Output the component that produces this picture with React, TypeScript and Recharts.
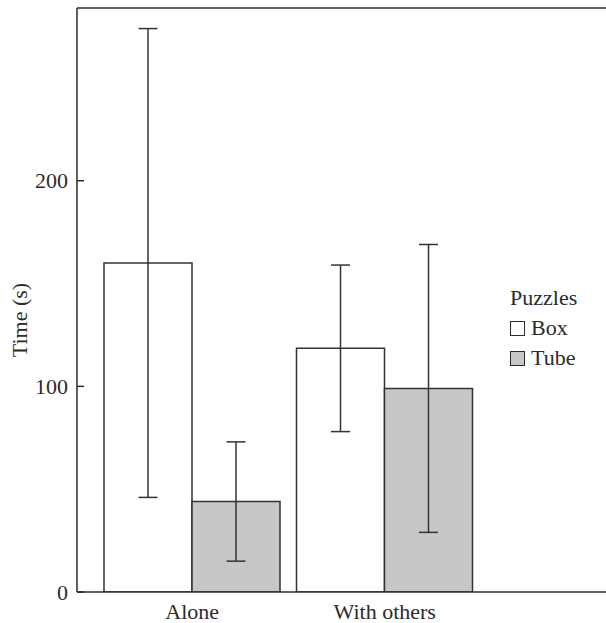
import React from 'react';
import {
  BarChart, Bar, XAxis, YAxis, ErrorBar, Legend, ReferenceLine, Label
} from 'recharts';

const conditions = ['Alone', 'With others'];
const boxTimes = [160, 118.5];
const boxErrors = [114, 40.5];
const tubeTimes = [44, 99];
const tubeErrors = [29, 70];
const yTicks = [0, 100, 200];
const yMax = 284;

const data = conditions.map((c, i) => ({
  condition: c,
  box: boxTimes[i],
  boxErr: boxErrors[i],
  tube: tubeTimes[i],
  tubeErr: tubeErrors[i],
}));

const FONT = '"Liberation Serif", "DejaVu Serif", serif';
const INK = '#2b2b2b';
const AXIS_X = 77;

const YTick = (props: any) => {
  const { y, payload } = props;
  return (
    <g>
      <line x1={AXIS_X} x2={AXIS_X + 7} y1={y} y2={y} stroke={INK} strokeWidth={1.5} />
      <text x={AXIS_X - 9} y={y} dy="0.35em" textAnchor="end" fill={INK} fontSize={22} fontFamily={FONT}>
        {payload.value}
      </text>
    </g>
  );
};

const PuzzleLegend = () => (
  <div style={{ fontFamily: FONT, fontSize: 22, color: INK, lineHeight: '30px' }}>
    <div>Puzzles</div>
    {[{ name: 'Box', fill: '#ffffff' }, { name: 'Tube', fill: '#c6c7c9' }].map((s) => (
      <div key={s.name} style={{ display: 'flex', alignItems: 'center' }}>
        <span style={{
          display: 'inline-block', width: 13, height: 13, background: s.fill,
          border: `1.5px solid ${INK}`, marginRight: 6,
        }} />
        {s.name}
      </div>
    ))}
  </div>
);

export default function App() {
  return (
    <div style={{ position: 'absolute', left: 0, top: 0, background: '#fff' }}>
      <BarChart
        width={606}
        height={623}
        data={data}
        margin={{ top: 8, right: 0, left: 17, bottom: 6 }}
        barGap={0}
        barSize={88}
      >
        <XAxis
          dataKey="condition"
          axisLine={{ stroke: INK, strokeWidth: 1.5 }}
          tickLine={false}
          tickSize={0}
          tickMargin={11}
          padding={{ left: 19, right: 125 }}
          height={25}
          tick={{ fill: INK, fontSize: 22, fontFamily: FONT }}
        />
        <YAxis
          width={60}
          domain={[0, yMax]}
          ticks={yTicks}
          allowDataOverflow
          axisLine={{ stroke: INK, strokeWidth: 1.5 }}
          tickLine={false}
          tick={<YTick />}
        >
          <Label
            value="Time (s)"
            angle={-90}
            position="insideLeft"
            offset={2}
            dy={20}
            style={{ fill: INK, fontSize: 22, fontFamily: FONT, textAnchor: 'middle' }}
          />
        </YAxis>
        <ReferenceLine y={yMax} stroke={INK} strokeWidth={1.5} />
        <Legend
          layout="horizontal"
          verticalAlign="middle"
          align="center"
          content={<PuzzleLegend />}
          wrapperStyle={{ left: 510, top: 283, width: 96 }}
        />
        <Bar dataKey="box" name="Box" fill="#ffffff" stroke="#333" strokeWidth={1.5} isAnimationActive={false}>
          <ErrorBar dataKey="boxErr" direction="y" width={9.5} stroke="#333" strokeWidth={1.5} />
        </Bar>
        <Bar dataKey="tube" name="Tube" fill="#c6c7c9" stroke="#333" strokeWidth={1.5} isAnimationActive={false}>
          <ErrorBar dataKey="tubeErr" direction="y" width={9.5} stroke="#333" strokeWidth={1.5} />
        </Bar>
      </BarChart>
    </div>
  );
}
